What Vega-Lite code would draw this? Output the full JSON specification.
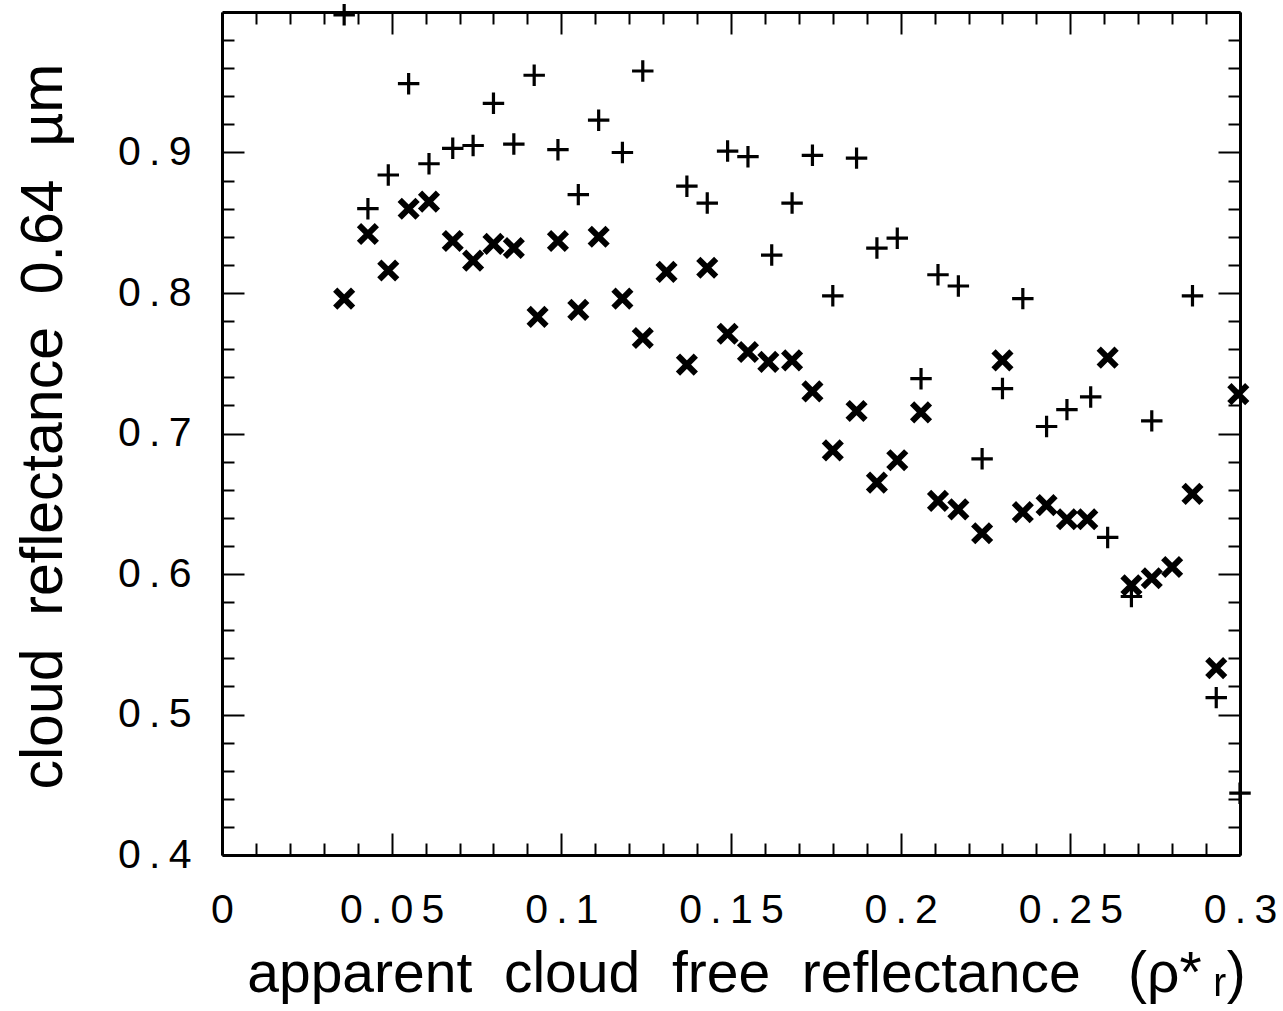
{
  "$schema": "https://vega.github.io/schema/vega-lite/v6.json",
  "width": 1018,
  "height": 843,
  "autosize": {"type": "none"},
  "padding": {"left": 222, "top": 12, "right": 43, "bottom": 156},
  "background": "white",
  "config": {
    "view": {"stroke": null},
    "axis": {
      "labelFont": "Liberation Sans",
      "labelFontSize": 41,
      "labelColor": "black",
      "titleFont": "Liberation Sans",
      "titleFontSize": 57,
      "titleFontWeight": "normal",
      "titleColor": "black",
      "domainColor": "black",
      "domainWidth": 3,
      "tickColor": "black",
      "tickWidth": 2,
      "grid": false
    }
  },
  "datasets": {
    "obs": [
      {"x": 0.036, "y": 0.998, "marker": "plus"},
      {"x": 0.043, "y": 0.860, "marker": "plus"},
      {"x": 0.049, "y": 0.884, "marker": "plus"},
      {"x": 0.055, "y": 0.949, "marker": "plus"},
      {"x": 0.061, "y": 0.892, "marker": "plus"},
      {"x": 0.068, "y": 0.903, "marker": "plus"},
      {"x": 0.074, "y": 0.905, "marker": "plus"},
      {"x": 0.080, "y": 0.935, "marker": "plus"},
      {"x": 0.086, "y": 0.906, "marker": "plus"},
      {"x": 0.092, "y": 0.955, "marker": "plus"},
      {"x": 0.099, "y": 0.902, "marker": "plus"},
      {"x": 0.105, "y": 0.870, "marker": "plus"},
      {"x": 0.111, "y": 0.923, "marker": "plus"},
      {"x": 0.118, "y": 0.900, "marker": "plus"},
      {"x": 0.124, "y": 0.958, "marker": "plus"},
      {"x": 0.137, "y": 0.876, "marker": "plus"},
      {"x": 0.143, "y": 0.864, "marker": "plus"},
      {"x": 0.149, "y": 0.901, "marker": "plus"},
      {"x": 0.155, "y": 0.897, "marker": "plus"},
      {"x": 0.162, "y": 0.827, "marker": "plus"},
      {"x": 0.168, "y": 0.864, "marker": "plus"},
      {"x": 0.174, "y": 0.898, "marker": "plus"},
      {"x": 0.180, "y": 0.798, "marker": "plus"},
      {"x": 0.187, "y": 0.896, "marker": "plus"},
      {"x": 0.193, "y": 0.832, "marker": "plus"},
      {"x": 0.199, "y": 0.839, "marker": "plus"},
      {"x": 0.206, "y": 0.739, "marker": "plus"},
      {"x": 0.211, "y": 0.813, "marker": "plus"},
      {"x": 0.217, "y": 0.805, "marker": "plus"},
      {"x": 0.224, "y": 0.682, "marker": "plus"},
      {"x": 0.230, "y": 0.732, "marker": "plus"},
      {"x": 0.236, "y": 0.796, "marker": "plus"},
      {"x": 0.243, "y": 0.705, "marker": "plus"},
      {"x": 0.249, "y": 0.717, "marker": "plus"},
      {"x": 0.256, "y": 0.726, "marker": "plus"},
      {"x": 0.261, "y": 0.626, "marker": "plus"},
      {"x": 0.268, "y": 0.584, "marker": "plus"},
      {"x": 0.274, "y": 0.709, "marker": "plus"},
      {"x": 0.286, "y": 0.798, "marker": "plus"},
      {"x": 0.293, "y": 0.512, "marker": "plus"},
      {"x": 0.300, "y": 0.444, "marker": "plus"},
      {"x": 0.036, "y": 0.796, "marker": "cross"},
      {"x": 0.043, "y": 0.842, "marker": "cross"},
      {"x": 0.049, "y": 0.816, "marker": "cross"},
      {"x": 0.055, "y": 0.860, "marker": "cross"},
      {"x": 0.061, "y": 0.865, "marker": "cross"},
      {"x": 0.068, "y": 0.837, "marker": "cross"},
      {"x": 0.074, "y": 0.823, "marker": "cross"},
      {"x": 0.080, "y": 0.835, "marker": "cross"},
      {"x": 0.086, "y": 0.832, "marker": "cross"},
      {"x": 0.093, "y": 0.783, "marker": "cross"},
      {"x": 0.099, "y": 0.837, "marker": "cross"},
      {"x": 0.105, "y": 0.788, "marker": "cross"},
      {"x": 0.111, "y": 0.840, "marker": "cross"},
      {"x": 0.118, "y": 0.796, "marker": "cross"},
      {"x": 0.124, "y": 0.768, "marker": "cross"},
      {"x": 0.131, "y": 0.815, "marker": "cross"},
      {"x": 0.137, "y": 0.749, "marker": "cross"},
      {"x": 0.143, "y": 0.818, "marker": "cross"},
      {"x": 0.149, "y": 0.771, "marker": "cross"},
      {"x": 0.155, "y": 0.758, "marker": "cross"},
      {"x": 0.161, "y": 0.751, "marker": "cross"},
      {"x": 0.168, "y": 0.752, "marker": "cross"},
      {"x": 0.174, "y": 0.730, "marker": "cross"},
      {"x": 0.180, "y": 0.688, "marker": "cross"},
      {"x": 0.187, "y": 0.716, "marker": "cross"},
      {"x": 0.193, "y": 0.665, "marker": "cross"},
      {"x": 0.199, "y": 0.681, "marker": "cross"},
      {"x": 0.206, "y": 0.715, "marker": "cross"},
      {"x": 0.211, "y": 0.652, "marker": "cross"},
      {"x": 0.217, "y": 0.646, "marker": "cross"},
      {"x": 0.224, "y": 0.629, "marker": "cross"},
      {"x": 0.230, "y": 0.752, "marker": "cross"},
      {"x": 0.236, "y": 0.644, "marker": "cross"},
      {"x": 0.243, "y": 0.649, "marker": "cross"},
      {"x": 0.249, "y": 0.639, "marker": "cross"},
      {"x": 0.255, "y": 0.639, "marker": "cross"},
      {"x": 0.261, "y": 0.754, "marker": "cross"},
      {"x": 0.268, "y": 0.592, "marker": "cross"},
      {"x": 0.274, "y": 0.597, "marker": "cross"},
      {"x": 0.280, "y": 0.605, "marker": "cross"},
      {"x": 0.286, "y": 0.657, "marker": "cross"},
      {"x": 0.293, "y": 0.533, "marker": "cross"},
      {"x": 0.2995, "y": 0.728, "marker": "cross"}
    ]
  },
  "data": {"name": "obs"},
  "layer": [
    {
      "mark": {"type": "point", "filled": false, "clip": false, "color": "black", "opacity": 1},
      "encoding": {
        "x": {
          "field": "x", "type": "quantitative",
          "scale": {"domain": [0, 0.3], "nice": false, "zero": false},
          "axis": {
            "orient": "bottom",
            "values": [0, 0.05, 0.1, 0.15, 0.2, 0.25, 0.3],
            "format": "~g",
            "labelExpr": "join(split(datum.label, ''), '\u2009')",
            "tickSize": -22,
            "labelPadding": 57,
            "labelFlush": false,
            "labelOverlap": false,
            "title": "apparent\u00a0 cloud\u00a0 free\u00a0 reflectance\u00a0\u00a0 (ρ*\u2009ᵣ)",
            "titleX": 524,
            "titleY": 136,
            "titleAlign": "center",
            "titleBaseline": "alphabetic"
          }
        },
        "y": {
          "field": "y", "type": "quantitative",
          "scale": {"domain": [0.4, 1.0], "nice": false, "zero": false},
          "axis": {
            "orient": "left",
            "values": [0.4, 0.5, 0.6, 0.7, 0.8, 0.9],
            "format": "~g",
            "labelExpr": "join(split(datum.label, ''), '\u2009')",
            "tickSize": -22,
            "labelPadding": 53,
            "labelFlush": false,
            "labelOverlap": false,
            "title": "cloud\u00a0 reflectance\u00a0 0.64\u00a0 µm",
            "titleFontSize": 59,
            "titleX": -161,
            "titleY": 414,
            "titleAngle": -90,
            "titleAlign": "center",
            "titleBaseline": "alphabetic"
          }
        },
        "shape": {
          "field": "marker", "type": "nominal",
          "scale": {"domain": ["plus", "cross"], "range": ["M-1,0H1M0,-1V1", "M-1,-1L1,1M-1,1L1,-1"]},
          "legend": null
        },
        "size": {
          "field": "marker", "type": "nominal",
          "scale": {"domain": ["plus", "cross"], "range": [460, 320]},
          "legend": null
        },
        "strokeWidth": {
          "field": "marker", "type": "nominal",
          "scale": {"domain": ["plus", "cross"], "range": [3.2, 6]},
          "legend": null
        }
      }
    },
    {
      "mark": {"type": "point", "opacity": 0},
      "encoding": {
        "x": {
          "field": "x", "type": "quantitative",
          "axis": {
            "orient": "bottom", "domain": false, "labels": false, "title": null, "tickSize": -12,
            "values": [0.01, 0.02, 0.03, 0.04, 0.06, 0.07, 0.08, 0.09, 0.11, 0.12, 0.13, 0.14, 0.16, 0.17, 0.18, 0.19, 0.21, 0.22, 0.23, 0.24, 0.26, 0.27, 0.28, 0.29]
          }
        },
        "y": {
          "field": "y", "type": "quantitative",
          "axis": {
            "orient": "left", "domain": false, "labels": false, "title": null, "tickSize": -12,
            "values": [0.42, 0.44, 0.46, 0.48, 0.52, 0.54, 0.56, 0.58, 0.62, 0.64, 0.66, 0.68, 0.72, 0.74, 0.76, 0.78, 0.82, 0.84, 0.86, 0.88, 0.92, 0.94, 0.96, 0.98]
          }
        }
      }
    },
    {
      "mark": {"type": "point", "opacity": 0},
      "encoding": {
        "x": {
          "field": "x", "type": "quantitative",
          "axis": {"orient": "top", "labels": false, "title": null, "tickSize": -22, "values": [0, 0.05, 0.1, 0.15, 0.2, 0.25, 0.3]}
        },
        "y": {
          "field": "y", "type": "quantitative",
          "axis": {"orient": "right", "labels": false, "title": null, "tickSize": -22, "values": [0.4, 0.5, 0.6, 0.7, 0.8, 0.9, 1.0]}
        }
      }
    },
    {
      "mark": {"type": "point", "opacity": 0},
      "encoding": {
        "x": {
          "field": "x", "type": "quantitative",
          "axis": {
            "orient": "top", "domain": false, "labels": false, "title": null, "tickSize": -12,
            "values": [0.01, 0.02, 0.03, 0.04, 0.06, 0.07, 0.08, 0.09, 0.11, 0.12, 0.13, 0.14, 0.16, 0.17, 0.18, 0.19, 0.21, 0.22, 0.23, 0.24, 0.26, 0.27, 0.28, 0.29]
          }
        },
        "y": {
          "field": "y", "type": "quantitative",
          "axis": {
            "orient": "right", "domain": false, "labels": false, "title": null, "tickSize": -12,
            "values": [0.42, 0.44, 0.46, 0.48, 0.52, 0.54, 0.56, 0.58, 0.62, 0.64, 0.66, 0.68, 0.72, 0.74, 0.76, 0.78, 0.82, 0.84, 0.86, 0.88, 0.92, 0.94, 0.96, 0.98]
          }
        }
      }
    }
  ],
  "resolve": {"axis": {"x": "independent", "y": "independent"}}
}
